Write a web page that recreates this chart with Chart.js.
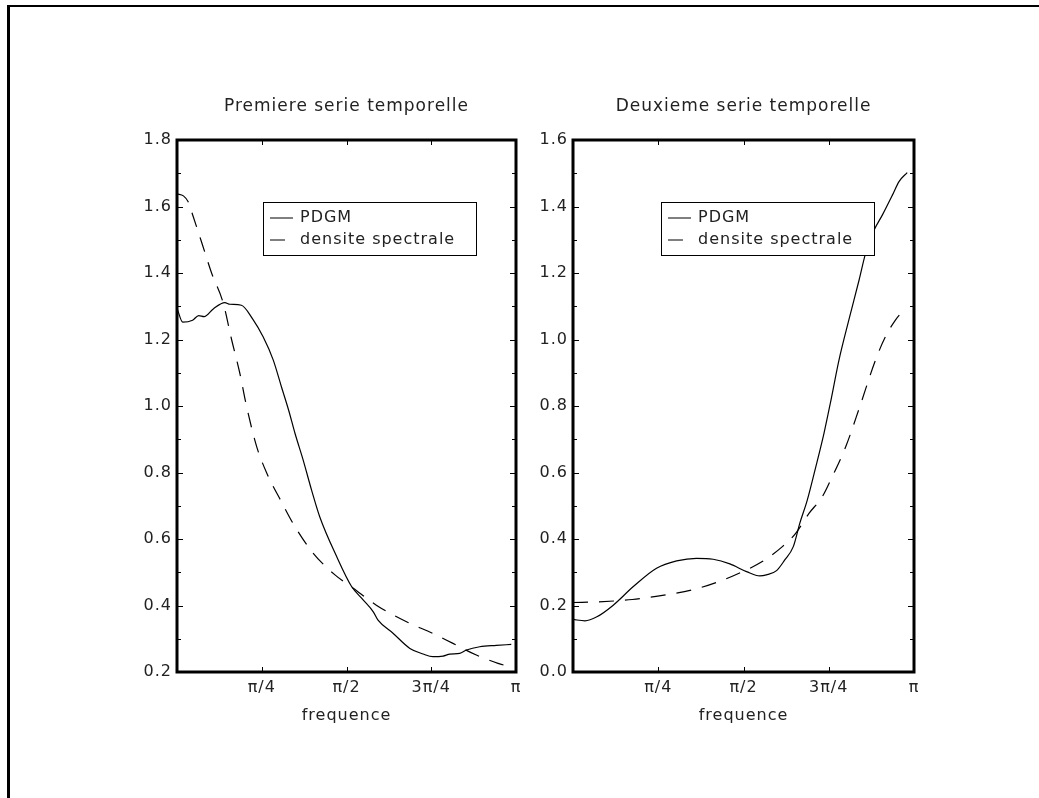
<!DOCTYPE html>
<html>
<head>
<meta charset="utf-8">
<script src="https://cdn.jsdelivr.net/npm/chart.js@4.4.0/dist/chart.umd.min.js"></script>
<style>
  body { margin: 0; background: #fff; width: 1039px; height: 798px; overflow: hidden; position: relative; }
  #frame { position: absolute; left: 7px; top: 5px; width: 1040px; height: 800px; border-top: 2px solid #000; border-left: 3px solid #000; }
  canvas { position: absolute; top: 80px; }
  #chart1 { left: 100px; }
  #chart2 { left: 500px; }
</style>
</head>
<body>
<div id="frame"></div>
<canvas id="chart1" width="440" height="652"></canvas>
<canvas id="chart2" width="440" height="652"></canvas>
<script>
// frequencies are given in units of pi (0 .. 1)
const xTickValues = [0, 0.25, 0.5, 0.75, 1];
const xTickLabels = ['', 'π/4', 'π/2', '3π/4', 'π'];

const yTicks1 = [0.2, 0.4, 0.6, 0.8, 1.0, 1.2, 1.4, 1.6, 1.8];
const yTicks2 = [0.0, 0.2, 0.4, 0.6, 0.8, 1.0, 1.2, 1.4, 1.6];

// Premiere serie temporelle
const freqPdgm1 = [0, 0.017, 0.046, 0.064, 0.08, 0.107, 0.141, 0.156, 0.19, 0.223, 0.254, 0.284, 0.308, 0.33,
    0.348, 0.372, 0.397, 0.421, 0.471, 0.515, 0.549, 0.579, 0.593, 0.638, 0.687, 0.726, 0.755, 0.785, 0.805,
    0.834, 0.854, 0.893, 0.942, 0.986];
const pdgm1 = [1.294, 1.252, 1.258, 1.272, 1.269, 1.292, 1.311, 1.306, 1.303, 1.262, 1.208, 1.138, 1.058, 0.985,
    0.918, 0.838, 0.747, 0.667, 0.547, 0.457, 0.417, 0.381, 0.356, 0.316, 0.271, 0.254, 0.246, 0.248, 0.254,
    0.256, 0.266, 0.276, 0.28, 0.283];
const freqDens1 = [0, 0.019, 0.033, 0.048, 0.075, 0.102, 0.136, 0.161, 0.185, 0.205, 0.235, 0.264, 0.308,
    0.348, 0.402, 0.466, 0.52, 0.588, 0.677, 0.755, 0.814, 0.883, 0.947, 0.981];
const dens1 = [1.638, 1.632, 1.614, 1.569, 1.485, 1.4, 1.311, 1.2, 1.1, 1.0, 0.878, 0.8, 0.712,
    0.637, 0.557, 0.492, 0.452, 0.401, 0.351, 0.316, 0.286, 0.251, 0.226, 0.216];

// Deuxieme serie temporelle
const freqPdgm2 = [0, 0.035, 0.07, 0.118, 0.177, 0.245, 0.304, 0.362, 0.411, 0.46, 0.509, 0.548, 0.567, 0.597,
    0.621, 0.646, 0.665, 0.687, 0.712, 0.736, 0.755, 0.78, 0.809, 0.839, 0.858, 0.883, 0.907, 0.937, 0.956, 0.98];
const pdgm2 = [0.158, 0.154, 0.166, 0.201, 0.257, 0.312, 0.334, 0.342, 0.339, 0.325, 0.302, 0.289, 0.292, 0.305,
    0.337, 0.377, 0.447, 0.517, 0.617, 0.718, 0.81, 0.938, 1.059, 1.179, 1.259, 1.329, 1.374, 1.435, 1.475, 1.502];
const freqDens2 = [0, 0.076, 0.174, 0.272, 0.35, 0.428, 0.487, 0.555, 0.614, 0.653, 0.692, 0.731, 0.76, 0.8,
    0.841, 0.887, 0.916, 0.946, 0.97];
const dens2 = [0.209, 0.211, 0.218, 0.232, 0.247, 0.272, 0.297, 0.332, 0.377, 0.417, 0.477, 0.527, 0.587, 0.678,
    0.798, 0.938, 1.008, 1.059, 1.089];

const FONT = 'DejaVu Sans';
const TEXT_COLOR = '#222';

function toPoints(xs, ys) {
    return xs.map((x, i) => ({x: x, y: ys[i]}));
}

// box around the plot area with inward ticks on all four sides, title centred over the box
const frameTicks = {
    id: 'frameTicks',
    beforeDraw(chart) {
        chart.ctx.letterSpacing = '1px';
    },
    afterDatasetsDraw(chart, args, opts) {
        const {ctx, chartArea: a, scales: {x, y}} = chart;
        ctx.save();
        ctx.strokeStyle = '#000';
        ctx.lineWidth = 1;
        ctx.beginPath();
        xTickValues.forEach(v => {
            const px = Math.round(x.getPixelForValue(v)) + 0.5;
            ctx.moveTo(px, a.bottom); ctx.lineTo(px, a.bottom - 5);
            ctx.moveTo(px, a.top); ctx.lineTo(px, a.top + 5);
        });
        const t = y.ticks.map(k => k.value);
        t.forEach((v, i) => {
            const py = Math.round(y.getPixelForValue(v)) + 0.5;
            ctx.moveTo(a.left, py); ctx.lineTo(a.left + 6, py);
            ctx.moveTo(a.right, py); ctx.lineTo(a.right - 6, py);
            if (i < t.length - 1) {
                const pm = Math.round(y.getPixelForValue((v + t[i + 1]) / 2)) + 0.5;
                ctx.moveTo(a.left, pm); ctx.lineTo(a.left + 4, pm);
                ctx.moveTo(a.right, pm); ctx.lineTo(a.right - 4, pm);
            }
        });
        ctx.stroke();
        ctx.lineWidth = 3;
        ctx.strokeRect(a.left, a.top, a.right - a.left, a.bottom - a.top);

        ctx.font = `17px "${FONT}"`;
        ctx.fillStyle = TEXT_COLOR;
        ctx.textAlign = 'center';
        ctx.textBaseline = 'middle';
        ctx.letterSpacing = '1px';
        ctx.fillText(opts.text, (a.left + a.right) / 2, a.top - 33);
        ctx.restore();
    }
};

// legend drawn as a framed box inside the plot
const boxLegend = {
    id: 'boxLegend',
    afterDraw(chart, args, opts) {
        const {ctx, chartArea: a} = chart;
        const bx = a.left + opts.left, by = a.top + opts.top;
        ctx.save();
        ctx.fillStyle = '#fff';
        ctx.fillRect(bx, by, opts.width, opts.height);
        ctx.strokeStyle = '#000';
        ctx.lineWidth = 1;
        ctx.strokeRect(bx + 0.5, by + 0.5, opts.width, opts.height);
        ctx.font = `16px "${FONT}"`;
        ctx.textBaseline = 'middle';
        ctx.letterSpacing = '1px';
        chart.data.datasets.forEach((ds, i) => {
            const ry = by + 16 + i * 22;
            ctx.beginPath();
            ctx.setLineDash(ds.borderDash || []);
            ctx.moveTo(bx + 7, ry); ctx.lineTo(bx + 30, ry);
            ctx.stroke();
            ctx.setLineDash([]);
            ctx.fillStyle = TEXT_COLOR;
            ctx.fillText(ds.label, bx + 37, ry);
        });
        ctx.restore();
    }
};

function makeChart(canvasId, title, pdgmPts, densPts, yTicks, yWidth, rightPad, legendLeft) {
    const ctx = document.getElementById(canvasId).getContext('2d');
    return new Chart(ctx, {
        type: 'line',
        data: {
            datasets: [{
                label: 'PDGM',
                data: pdgmPts,
                borderColor: '#000',
                borderWidth: 1.2,
                pointRadius: 0,
                cubicInterpolationMode: 'monotone',
                fill: false
            }, {
                label: 'densite spectrale',
                data: densPts,
                borderColor: '#000',
                borderWidth: 1.2,
                borderDash: [15, 11],
                pointRadius: 0,
                cubicInterpolationMode: 'monotone',
                fill: false
            }]
        },
        options: {
            responsive: false,
            animation: false,
            devicePixelRatio: 1,
            layout: {padding: {left: 0, right: rightPad, top: 60, bottom: 0}},
            plugins: {
                legend: {display: false},
                tooltip: {enabled: false},
                title: {display: false},
                frameTicks: {text: title},
                boxLegend: {left: legendLeft, top: 62, width: 213, height: 53}
            },
            scales: {
                x: {
                    type: 'linear',
                    min: 0,
                    max: 1,
                    afterBuildTicks: s => { s.ticks = xTickValues.map(v => ({value: v})); },
                    afterFit: s => { s.height = 60; },
                    ticks: {
                        autoSkip: false,
                        maxRotation: 0,
                        padding: 6,
                        color: TEXT_COLOR,
                        font: {family: FONT, size: 16},
                        callback: v => xTickLabels[xTickValues.indexOf(v)]
                    },
                    grid: {display: false, drawTicks: false},
                    border: {display: false},
                    title: {
                        display: true,
                        text: 'frequence',
                        color: TEXT_COLOR,
                        font: {family: FONT, size: 16},
                        padding: {top: 2, bottom: 7}
                    }
                },
                y: {
                    type: 'linear',
                    min: yTicks[0],
                    max: yTicks[yTicks.length - 1],
                    afterBuildTicks: s => { s.ticks = yTicks.map(v => ({value: v})); },
                    afterFit: s => { s.width = yWidth; },
                    ticks: {
                        padding: 5,
                        color: TEXT_COLOR,
                        font: {family: FONT, size: 16},
                        callback: v => Number(v).toFixed(1)
                    },
                    grid: {display: false, drawTicks: false},
                    border: {display: false}
                }
            }
        },
        plugins: [frameTicks, boxLegend]
    });
}

makeChart('chart1', 'Premiere serie temporelle', toPoints(freqPdgm1, pdgm1), toPoints(freqDens1, dens1),
    yTicks1, 77, 24, 86);
makeChart('chart2', 'Deuxieme serie temporelle', toPoints(freqPdgm2, pdgm2), toPoints(freqDens2, dens2),
    yTicks2, 73, 26, 88);
</script>
</body>
</html>
